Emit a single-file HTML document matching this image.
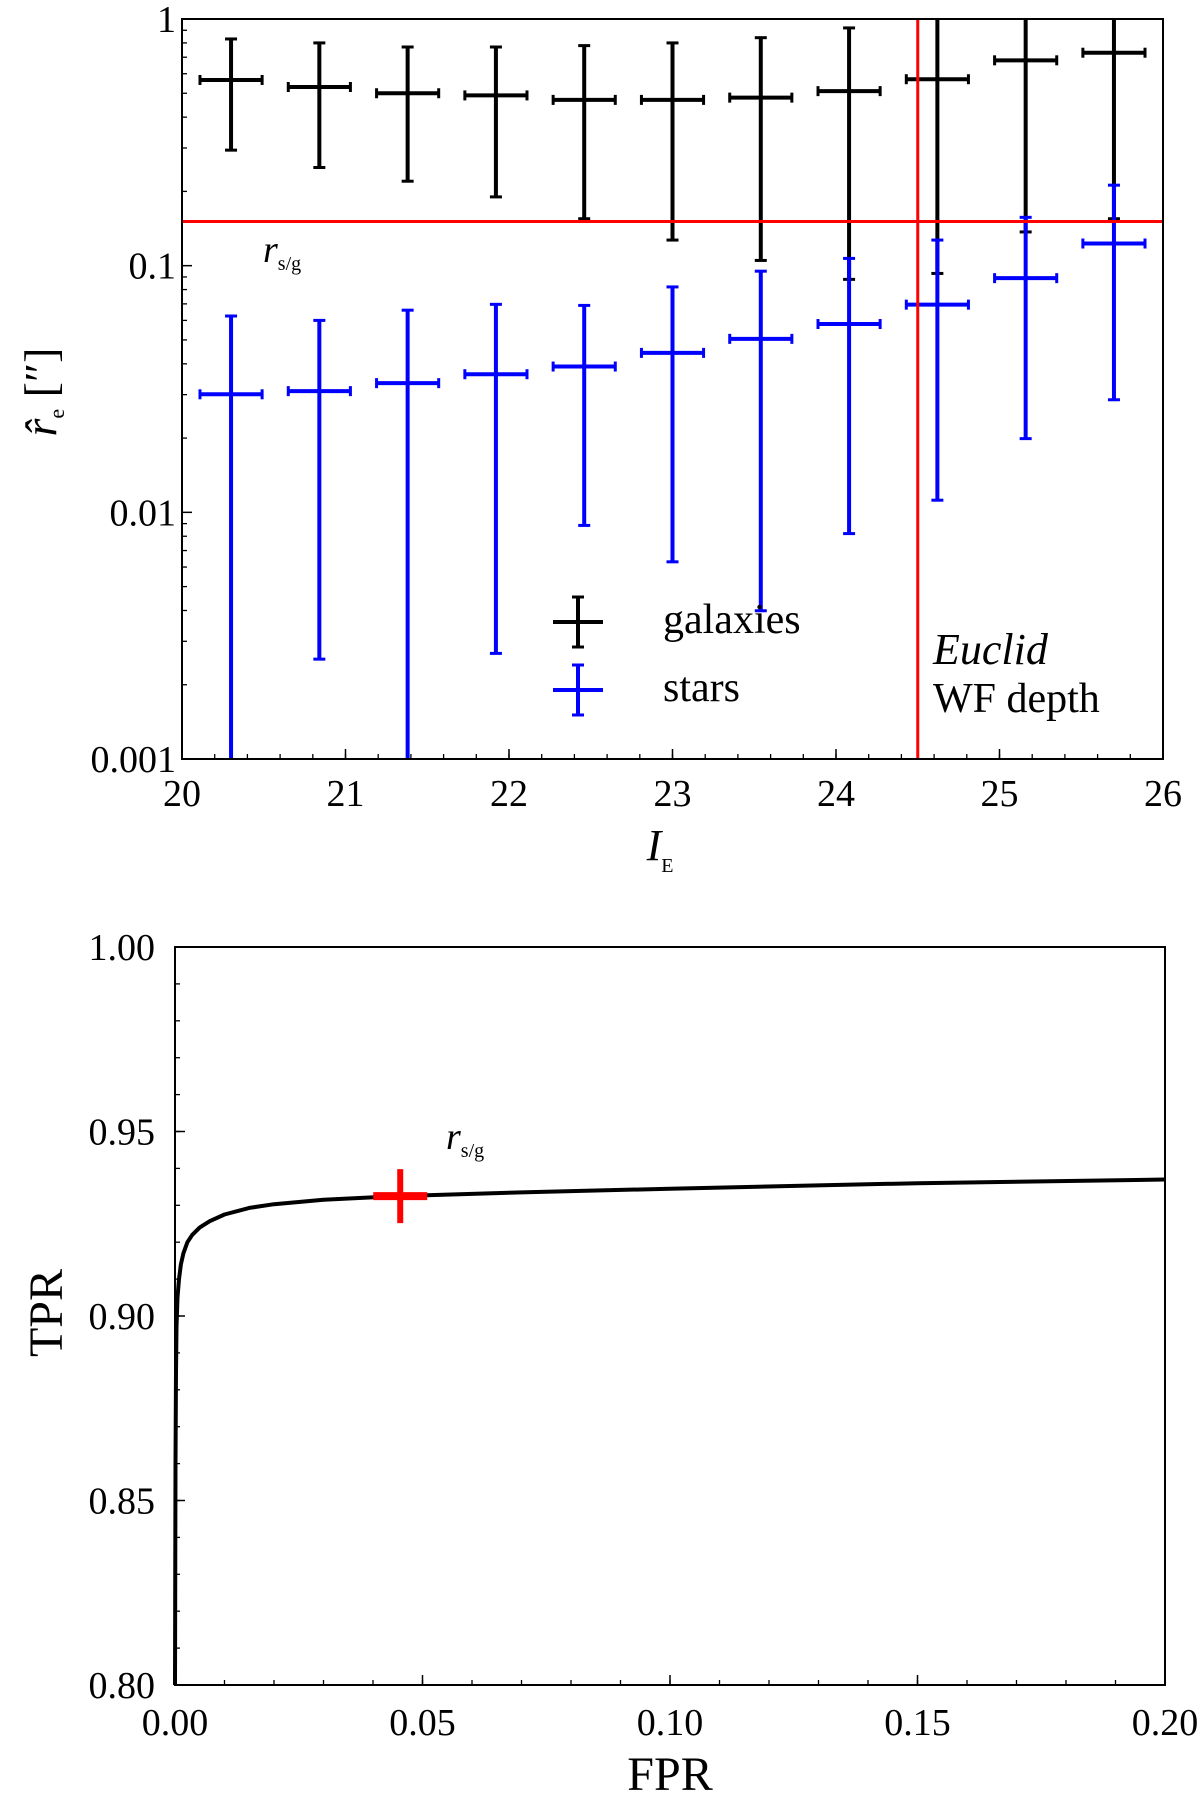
<!DOCTYPE html>
<html><head><meta charset="utf-8"><style>
body{margin:0;background:#fff}
svg{display:block;font-family:"Liberation Serif",serif}
</style></head><body>
<svg id="c" width="1200" height="1794" viewBox="0 0 1200 1794"></svg>
<script>
// ---- top panel data ----
const magBins=[20.3,20.84,21.38,21.92,22.46,23.0,23.54,24.08,24.62,25.16,25.7];
const galY=[0.566,0.53,0.50,0.49,0.47,0.47,0.48,0.51,0.57,0.68,0.73];
const galHi=[0.83,0.80,0.77,0.77,0.78,0.80,0.84,0.92,1.5,1.5,1.5];
const galLo=[0.294,0.25,0.22,0.19,0.155,0.127,0.105,0.088,0.093,0.137,0.155];
const starY=[0.0301,0.031,0.0334,0.0363,0.039,0.0443,0.0505,0.058,0.0695,0.089,0.123];
const starHi=[0.0625,0.060,0.066,0.0697,0.069,0.082,0.095,0.107,0.127,0.157,0.212];
const starLo=[0.0005,0.00254,0.0005,0.00268,0.00885,0.0063,0.00399,0.0082,0.0112,0.0199,0.0286];
const magErr=0.19;
const rsg=0.151, depth=24.5;
const yTicksTop=[1,0.1,0.01,0.001], yTickLabelsTop=["1","0.1","0.01","0.001"];
const xTicksTop=[20,21,22,23,24,25,26];
// ---- bottom panel data ----
const fpr=[0,0.0001,0.0002,0.0003,0.0005,0.0008,0.0012,0.0017,0.0025,0.0035,0.005,0.007,0.01,0.015,0.02,0.03,0.045,0.07,0.1,0.15,0.2];
const tpr=[0.80,0.86,0.885,0.897,0.905,0.910,0.914,0.917,0.920,0.922,0.924,0.9257,0.9275,0.9293,0.9303,0.9315,0.9325,0.9335,0.9345,0.936,0.937];
const opFpr=0.0455, opTpr=0.9325;
const xTicksBot=[0,0.05,0.1,0.15,0.2], xTickLabelsBot=["0.00","0.05","0.10","0.15","0.20"];
const yTicksBot=[0.8,0.85,0.9,0.95,1.0], yTickLabelsBot=["0.80","0.85","0.90","0.95","1.00"];

const svg=document.getElementById('c');const NS="http://www.w3.org/2000/svg";
function el(t,a,p){const e=document.createElementNS(NS,t);for(const k in a)e.setAttribute(k,a[k]);(p||svg).appendChild(e);return e;}
// top axes
const T={l:182,r:1163,t:19,b:759};
const xT=v=>T.l+(v-20)/6*(T.r-T.l);
const yT=v=>T.t+(0-Math.log10(v))/3*(T.b-T.t);
const gTop=el('g',{});
const cp=el('clipPath',{id:'cpT'});el('rect',{x:T.l,y:T.t,width:T.r-T.l,height:T.b-T.t},cp);
const gData=el('g',{'clip-path':'url(#cpT)'},gTop);
function errbar(g,x,y,hi,lo,col,name){const gg=el('g',{},g);
 el('line',{x1:xT(x),x2:xT(x),y1:yT(hi),y2:yT(lo),stroke:col,'stroke-width':4},gg);
 el('line',{x1:xT(x-magErr),x2:xT(x+magErr),y1:yT(y),y2:yT(y),stroke:col,'stroke-width':4},gg);
 el('line',{x1:xT(x-magErr),x2:xT(x-magErr),y1:yT(y)-5,y2:yT(y)+5,stroke:col,'stroke-width':3},gg);
 el('line',{x1:xT(x+magErr),x2:xT(x+magErr),y1:yT(y)-5,y2:yT(y)+5,stroke:col,'stroke-width':3},gg);
 [hi,lo].forEach(v=>el('line',{x1:xT(x)-6,x2:xT(x)+6,y1:yT(v),y2:yT(v),stroke:col,'stroke-width':3},gg));}
magBins.forEach((m,i)=>errbar(gData,m,galY[i],galHi[i],galLo[i],'#000','galaxy-point'));
magBins.forEach((m,i)=>errbar(gData,m,starY[i],starHi[i],starLo[i],'#0000ff','star-point'));
let h=el('line',{x1:T.l,x2:T.r,y1:yT(rsg),y2:yT(rsg),stroke:'#ff0000','stroke-width':3},gTop);

let v=el('line',{x1:xT(depth),x2:xT(depth),y1:T.t,y2:T.b,stroke:'#ff0000','stroke-width':3},gTop);

el('rect',{x:T.l,y:T.t,width:T.r-T.l,height:T.b-T.t,fill:'none',stroke:'#000','stroke-width':2},gTop);
for(let d=-3;d<0;d++)for(let k=2;k<10;k++){const y=yT(k*Math.pow(10,d));el('line',{x1:T.l,x2:T.l+5,y1:y,y2:y,stroke:'#000','stroke-width':1.3},gTop);}
yTicksTop.forEach((t,i)=>{el('line',{x1:T.l,x2:T.l+10,y1:yT(t),y2:yT(t),stroke:'#000','stroke-width':1.5},gTop);
 const tx=el('text',{x:T.l-6,y:yT(t)+13,'text-anchor':'end','font-size':38},gTop);tx.textContent=yTickLabelsTop[i];
 });
for(let x=20;x<=26.001;x+=0.2){el('line',{x1:xT(x),x2:xT(x),y1:T.b,y2:T.b-5,stroke:'#000','stroke-width':1.3},gTop);}
xTicksTop.forEach(t=>{el('line',{x1:xT(t),x2:xT(t),y1:T.b,y2:T.b-10,stroke:'#000','stroke-width':1.5},gTop);
 const tx=el('text',{x:xT(t),y:806,'text-anchor':'middle','font-size':38},gTop);tx.textContent=t;
 });
let t=el('text',{x:660,y:860,'font-size':44,'font-style':'italic','text-anchor':'middle'},gTop);t.innerHTML='I<tspan font-size="20" font-style="normal" dy="12">E</tspan>';

t=el('text',{transform:'translate(56,392) rotate(-90)','font-size':46,'text-anchor':'middle'},gTop);t.innerHTML='<tspan font-style="italic">r̂</tspan><tspan font-size="22" dy="8">e</tspan><tspan dy="-8"> [″]</tspan>';

t=el('text',{x:263,y:262,'font-size':38,'font-style':'italic'},gTop);t.innerHTML='r<tspan font-size="20" font-style="normal" dy="8">s/g</tspan>';

// legend
function legMark(y,col,name,label){const g=el('g',{},gTop);
 el('line',{x1:553,x2:603,y1:y,y2:y,stroke:col,'stroke-width':4},g);el('line',{x1:578,x2:578,y1:y-25,y2:y+25,stroke:col,'stroke-width':4},g);
 el('line',{x1:572,x2:584,y1:y-25,y2:y-25,stroke:col,'stroke-width':3},g);el('line',{x1:572,x2:584,y1:y+25,y2:y+25,stroke:col,'stroke-width':3},g);
 const tx=el('text',{x:663,y:y+11,'font-size':42},g);tx.textContent=label;}
legMark(622,'#000','legend-galaxies','galaxies');legMark(690,'#0000ff','legend-stars','stars');
t=el('text',{x:933,y:664,'font-size':44,'font-style':'italic'},gTop);t.textContent='Euclid';
t=el('text',{x:933,y:712,'font-size':42},gTop);t.textContent='WF depth';

// bottom axes
const B={l:175,r:1165,t:947,b:1685};
const xB=v=>B.l+v/0.2*(B.r-B.l);
const yB=v=>B.b-(v-0.8)/0.2*(B.b-B.t);
const gB=el('g',{});
let d=fpr.map((f,i)=>(i?'L':'M')+xB(f).toFixed(1)+','+yB(tpr[i]).toFixed(1)).join('');
let p=el('path',{d:d,fill:'none',stroke:'#000','stroke-width':4,'stroke-linejoin':'round'},gB);

const gm=el('g',{},gB);
el('line',{x1:xB(opFpr)-27,x2:xB(opFpr)+27,y1:yB(opTpr),y2:yB(opTpr),stroke:'#ff0000','stroke-width':8},gm);
el('line',{x1:xB(opFpr),x2:xB(opFpr),y1:yB(opTpr)-27,y2:yB(opTpr)+27,stroke:'#ff0000','stroke-width':6},gm);
el('rect',{x:B.l,y:B.t,width:B.r-B.l,height:B.b-B.t,fill:'none',stroke:'#000','stroke-width':2},gB);
for(let x=0;x<=0.2001;x+=0.01)el('line',{x1:xB(x),x2:xB(x),y1:B.b,y2:B.b-5,stroke:'#000','stroke-width':1.3},gB);
for(let y=0.8;y<=1.0001;y+=0.01)el('line',{x1:B.l,x2:B.l+5,y1:yB(y),y2:yB(y),stroke:'#000','stroke-width':1.3},gB);
xTicksBot.forEach((t,i)=>{el('line',{x1:xB(t),x2:xB(t),y1:B.b,y2:B.b-10,stroke:'#000','stroke-width':1.5},gB);
 const tx=el('text',{x:xB(t),y:1735,'text-anchor':'middle','font-size':38},gB);tx.textContent=xTickLabelsBot[i];
 });
yTicksBot.forEach((t,i)=>{el('line',{x1:B.l,x2:B.l+10,y1:yB(t),y2:yB(t),stroke:'#000','stroke-width':1.5},gB);
 const tx=el('text',{x:B.l-20,y:yB(t)+13,'text-anchor':'end','font-size':38},gB);tx.textContent=yTickLabelsBot[i];
 });
t=el('text',{x:670,y:1790,'text-anchor':'middle','font-size':48},gB);t.textContent='FPR';
t=el('text',{transform:'translate(62,1313) rotate(-90)','text-anchor':'middle','font-size':48},gB);t.textContent='TPR';
t=el('text',{x:446,y:1149,'font-size':38,'font-style':'italic'},gB);t.innerHTML='r<tspan font-size="20" font-style="normal" dy="8">s/g</tspan>';

</script>
</body></html>
